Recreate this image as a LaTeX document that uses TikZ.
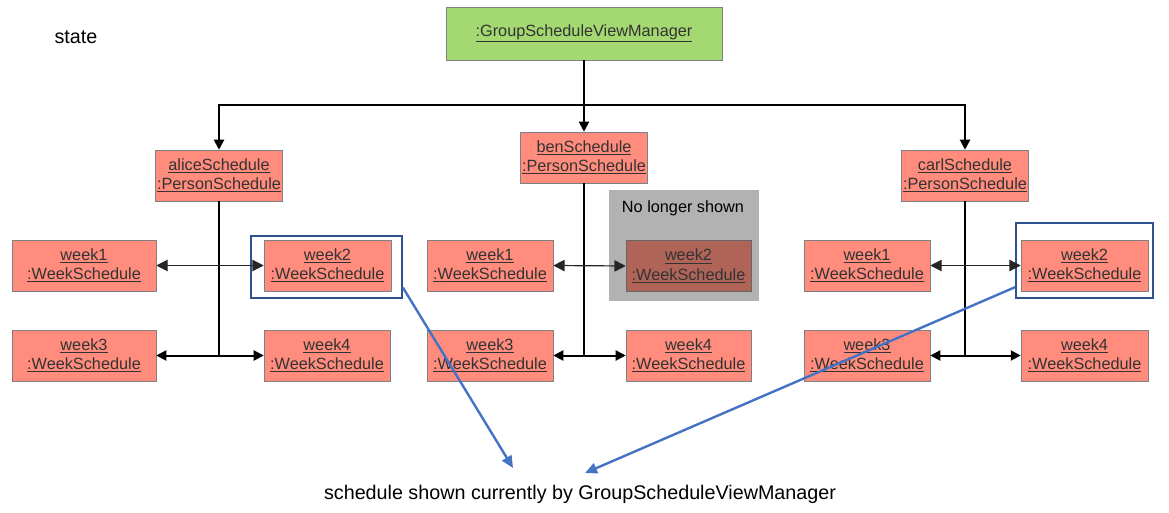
\documentclass[tikz,border=0pt]{standalone}
\usepackage{fontspec}
\setmainfont{Liberation Sans}
\usepackage{tikz}
\usetikzlibrary{positioning}
\usetikzlibrary{arrows.meta}

\definecolor{objred}{RGB}{255,140,125}
\definecolor{objdark}{RGB}{176,100,88}
\definecolor{mgrgreen}{RGB}{164,216,112}
\definecolor{frameblue}{RGB}{47,82,143}
\definecolor{ptrblue}{RGB}{68,114,196}
\definecolor{objtext}{RGB}{51,51,51}

\newcommand{\objname}[2]{\underline{#1}\\\underline{#2}}

\begin{document}
\begin{tikzpicture}[x=0.75pt, y=-0.75pt,
    obj/.style={draw=black!50, fill=objred, text=objtext, align=center, inner sep=1pt,
        minimum width=126*0.75pt, minimum height=51*0.75pt, font=\fontsize{12.2}{14.4}\selectfont},
    wide/.style={minimum width=144*0.75pt},
    line/.style={line width=1.5pt},
    link/.style={line width=1.5pt, -{Triangle[length=7.5pt, width=7.5pt]}},
    twoway/.style={line width=0.9pt, black!85, {Triangle[length=8.5pt, width=8.5pt]}-{Triangle[length=8.5pt, width=8.5pt]}},
    frame/.style={draw=frameblue, line width=1.3pt, inner sep=0pt},
    ptr/.style={draw=ptrblue, line width=1.8pt, -{Triangle[length=9pt, width=8pt]}},
    big/.style={font=\fontsize{14.8}{17}\selectfont}
]
    \useasboundingbox (0,0) rectangle (1169,513);

    \node[big] (state) at (76,37) {state};

    \node[obj, fill=mgrgreen, minimum width=276*0.75pt, minimum height=53*0.75pt] (mgr) at (584,33.5) {\underline{:GroupScheduleViewManager}};

    \node[obj] (alice) at (219,175.5) {\objname{aliceSchedule}{:PersonSchedule}};
    \node[obj] (ben) at (584,157.5) {\objname{benSchedule}{:PersonSchedule}};
    \node[obj] (carl) at (965,175.5) {\objname{carlSchedule}{:PersonSchedule}};

    % alice
    \node[obj, wide] (a1) at (84,265.5) {\objname{week1}{:WeekSchedule}};
    \node[obj, minimum width=127*0.75pt] (a2) at (327.5,265.5) {\objname{week2}{:WeekSchedule}};
    \node[obj, wide] (a3) at (84,355.5) {\objname{week3}{:WeekSchedule}};
    \node[obj] (a4) at (327,355.5) {\objname{week4}{:WeekSchedule}};

    % ben
    \node[fill=black!30, minimum width=150*0.75pt, minimum height=111*0.75pt] (gone) at (684,245.5) {};
    \node[font=\fontsize{12.2}{14.4}\selectfont] (gonetext) at (683,208) {No longer shown};
    \node[obj] (b1) at (490,265.5) {\objname{week1}{:WeekSchedule}};
    \node[obj, fill=objdark, draw=black!60, minimum width=125*0.75pt] (b2) at (688.5,266) {\objname{week2}{:WeekSchedule}};
    \node[obj] (b3) at (490,355.5) {\objname{week3}{:WeekSchedule}};
    \node[obj, minimum width=125*0.75pt] (b4) at (688.5,355.5) {\objname{week4}{:WeekSchedule}};

    % carl
    \node[obj] (c1) at (867,265.5) {\objname{week1}{:WeekSchedule}};
    \node[obj, minimum width=127*0.75pt] (c2) at (1084.5,265.5) {\objname{week2}{:WeekSchedule}};
    \node[obj] (c3) at (867,355.5) {\objname{week3}{:WeekSchedule}};
    \node[obj, minimum width=127*0.75pt] (c4) at (1084.5,355.5) {\objname{week4}{:WeekSchedule}};

    \node[frame, minimum width=151*0.75pt, minimum height=62*0.75pt] (af) at (326.5,267) {};
    \node[frame, minimum width=137*0.75pt, minimum height=75*0.75pt] (cf) at (1084.5,260.5) {};

    \node[big] (caption) at (580,494) {schedule shown currently by GroupScheduleViewManager};

    \coordinate (split) at (584,105);
    \draw[line] (mgr.south) -- (split);
    \draw[link] (split) -- (ben.north);
    \draw[link] (split) -| (alice.north);
    \draw[link] (split) -| (carl.north);

    \coordinate (aj) at (alice.south |- a3.east);
    \draw[line] (alice.south) -- (aj);
    \draw[link] (aj) -- (a3.east);
    \draw[link] (aj) -- (a4.west);
    \draw[twoway] (a1.east) -- (a2.west);

    \coordinate (bj) at (ben.south |- b3.east);
    \draw[line] (ben.south) -- (bj);
    \draw[link] (bj) -- (b3.east);
    \draw[link] (bj) -- (b4.west);
    \draw[twoway] (b1.east) -- (b2.west);

    \coordinate (cj) at (carl.south |- c3.east);
    \draw[line] (carl.south) -- (cj);
    \draw[link] (cj) -- (c3.east);
    \draw[link] (cj) -- (c4.west);
    \draw[twoway] (c1.east) -- (c2.west);

    \coordinate (tipl) at (513,468);
    \coordinate (tipr) at (585,473);
    \draw[ptr] (af.-15) -- (tipl);
    \draw[ptr] (cf.201) -- (tipr);
\end{tikzpicture}
\end{document}
